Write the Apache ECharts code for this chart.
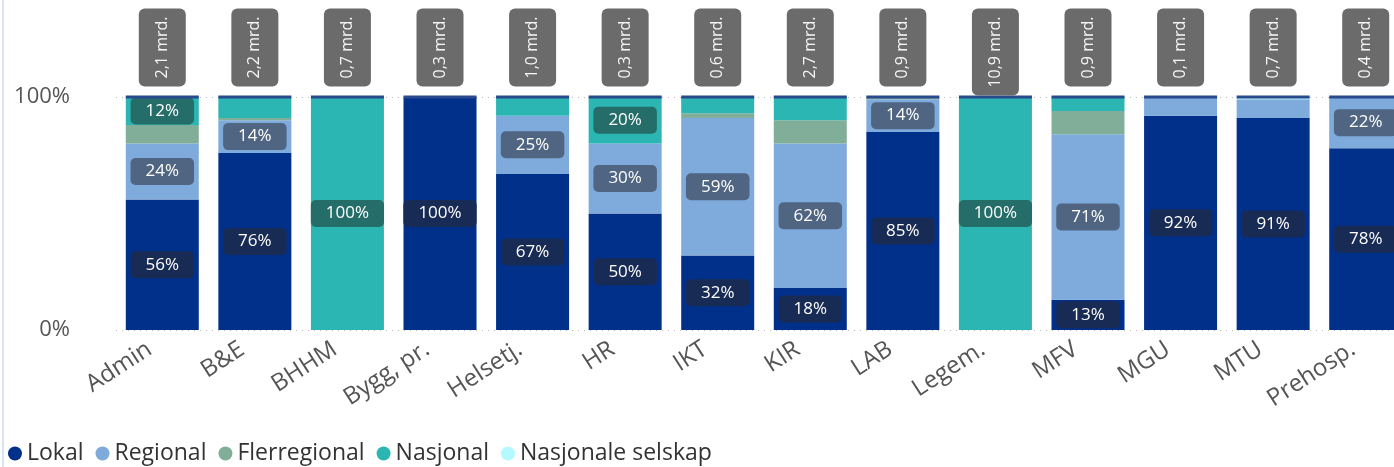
<!DOCTYPE html>
<html><head><meta charset="utf-8">
<script src="https://cdn.jsdelivr.net/npm/echarts@6/dist/echarts.min.js"></script>
<style>
html,body{margin:0;padding:0;overflow:hidden;background:#fff;}
#wrap{position:relative;width:1394px;height:467px;overflow:hidden;}
#chart{position:absolute;left:0;top:0;width:1420px;height:467px;}
#edge{position:absolute;left:2px;top:0;width:2px;height:467px;background:#d6e3f3;}
</style></head><body>
<div id="wrap"><div id="chart"></div><div id="edge"></div></div>
<script>
const categories = ['Admin','B&E','BHHM','Bygg, pr.','Helsetj.','HR','IKT','KIR','LAB','Legem.','MFV','MGU','MTU','Prehosp.'];
const lokal            = [56,76,0,100,67,50,32,18,85,0,13,92,91,78];
const regional         = [24,14,0,0,25,30,59,62,14,0,71,8,8,22];
const flerregional     = [8,1,0,0,0,0,2,10,1,0,10,0,0,0];
const nasjonal         = [12,9,100,0,8,20,7,10,0,100,6,0,0,0];
const nasjonaleSelskap = [0,0,0,0,0,0,0,0,0,0,0,0,1,0];
const totalMrd         = [2.1,2.2,0.7,0.3,1.0,0.3,0.6,2.7,0.9,10.9,0.9,0.1,0.7,0.4];
const yTicks = [0,100];

const FONT = "'Open Sans', 'Noto Sans', sans-serif";
const seriesDefs = [
  {name:'Lokal', data:lokal, color:'#00308A', labelBg:'#182B55'},
  {name:'Regional', data:regional, color:'#7EAADC', labelBg:'#4F6581'},
  {name:'Flerregional', data:flerregional, color:'#81AE98', labelBg:'#4F6E5F'},
  {name:'Nasjonal', data:nasjonal, color:'#2BB5B3', labelBg:'#256D69'},
  {name:'Nasjonale selskap', data:nasjonaleSelskap, color:'#B3F9FF', labelBg:'#5C8C90'}
];
const stackTotals = categories.map((c,i)=>seriesDefs.reduce((s,d)=>s+d.data[i],0));

const series = seriesDefs.map(d=>({
  name:d.name, type:'bar', stack:'total', barWidth:73,
  itemStyle:{color:d.color},
  label:{position:'inside', formatter:'{c}%', color:'#fff', fontFamily:FONT, fontSize:17,
    backgroundColor:d.labelBg, borderRadius:5, padding:[5,15]},
  data:d.data.map(v=>({value:v, label:{show:v>=11}}))
}));
series.push({
  name:'Totalt', type:'scatter', symbol:'rect', symbolSize:[73,3], clip:false, z:5,
  itemStyle:{color:'#2A4A8E', opacity:1},
  label:{show:true, position:'top', distance:87, rotate:90, align:'right', verticalAlign:'middle',
    formatter:p=>totalMrd[p.dataIndex].toFixed(1).replace('.',',')+' mrd.',
    color:'#f6f6f6', fontFamily:FONT, fontSize:16, lineHeight:17,
    backgroundColor:'#6B6B6B', borderRadius:6, padding:[15,8]},
  data:stackTotals
});

const chart = echarts.init(document.getElementById('chart'));
chart.setOption({
  animation:false,
  textStyle:{fontFamily:FONT},
  grid:{left:116, right:8, top:97, bottom:137},
  legend:{data:seriesDefs.map(d=>d.name), left:8, top:442, icon:'circle', itemWidth:14, itemHeight:14,
    itemGap:12, padding:0, textStyle:{fontFamily:FONT, fontSize:23, color:'#333'}},
  xAxis:{type:'category', data:categories, axisLine:{show:false}, axisTick:{show:false},
    axisLabel:{rotate:33, margin:9, align:'right', verticalAlign:'middle', padding:[0,15,0,0],
      fontSize:24, color:'#555', fontFamily:FONT, interval:0}},
  yAxis:{type:'value', min:yTicks[0], max:yTicks[1], interval:yTicks[1]-yTicks[0],
    axisLabel:{formatter:'{value}%', fontSize:22, color:'#555', margin:46, fontFamily:FONT},
    splitLine:{lineStyle:{type:[1,5], color:'#bbb'}}},
  series:series
});
</script></body></html>
